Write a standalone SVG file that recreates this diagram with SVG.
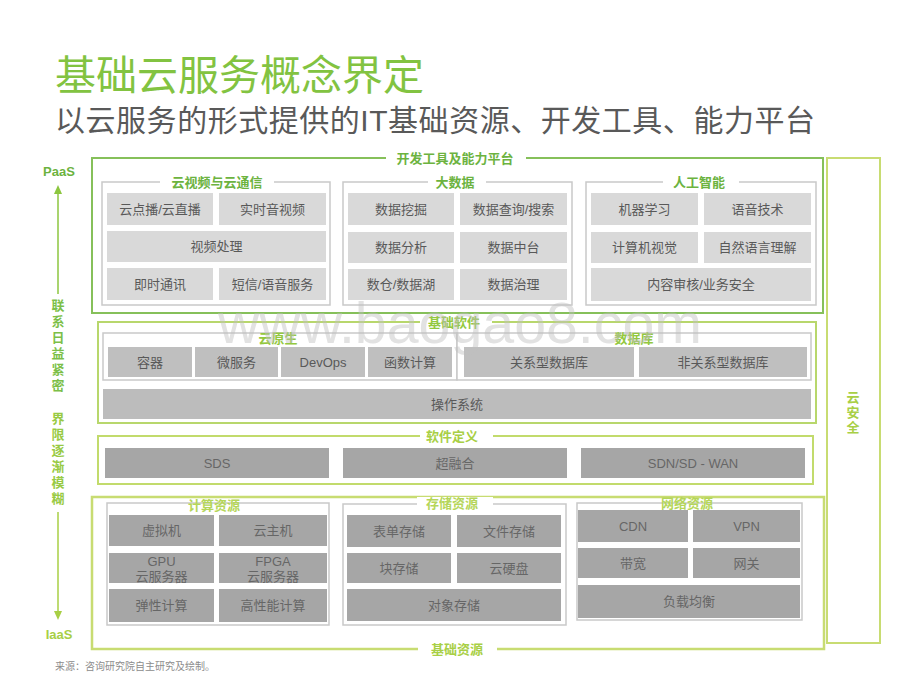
<svg xmlns="http://www.w3.org/2000/svg" width="920" height="690" viewBox="0 0 920 690">
<style>
text{font-family:"Liberation Sans","Noto Sans CJK SC",sans-serif;}
.c{font-size:13px;fill:#595959;text-anchor:middle;dominant-baseline:central;}
.cb{font-size:13px;fill:#666;text-anchor:middle;dominant-baseline:central;}
.cl{fill:#d9d9d9}
.cm{fill:#bfbfbf}
.cd{fill:#a6a6a6}
.pn{fill:#fff;stroke:#c9c9c9;stroke-width:1.5}
.lb{font-size:13px;font-weight:bold;text-anchor:middle;dominant-baseline:central}
.g1{fill:#6cb33f}
.g2{fill:#93c83e}
.g3{fill:#a8cf45}
.bg{fill:#fff}
.vt{font-size:13px;font-weight:bold;text-anchor:middle;dominant-baseline:central}
</style>

<!-- Title -->
<g id="title">
<text x="55" y="90" font-size="41" fill="#82c341" font-family="Noto Sans CJK SC,sans-serif">基础云服务概念界定</text>
<text x="55" y="131" font-size="30" fill="#595959" textLength="760" lengthAdjust="spacing">以云服务的形式提供的IT基础资源、开发工具、能力平台</text>
</g>

<!-- Left axis -->
<g id="axis">
<text x="59" y="171" class="vt" fill="#6cb33f" font-size="12">PaaS</text>
<text class="vt" fill="#7cbf48">
<tspan x="58" y="305">联</tspan><tspan x="58" y="321">系</tspan><tspan x="58" y="337">日</tspan><tspan x="58" y="353">益</tspan><tspan x="58" y="369">紧</tspan><tspan x="58" y="385">密</tspan>
</text>
<text class="vt" fill="#98ca43">
<tspan x="58" y="418">界</tspan><tspan x="58" y="434">限</tspan><tspan x="58" y="450">逐</tspan><tspan x="58" y="466">渐</tspan><tspan x="58" y="482">模</tspan><tspan x="58" y="498">糊</tspan>
</text>
<text x="59" y="634" class="vt" fill="#a8cf45" font-size="12">IaaS</text>
</g>

<g id="connectors">
<line x1="58" y1="192" x2="58" y2="294" stroke="#8cc63f" stroke-width="1.5"/>
<polygon points="58,185 54,194 62,194" fill="#8cc63f"/>
<line x1="58" y1="512" x2="58" y2="613" stroke="#a8cf45" stroke-width="1.5"/>
<polygon points="58,620 54,611 62,611" fill="#a8cf45"/>
</g>

<!-- Cloud security -->
<g id="cloud-security">
<rect x="827" y="158" width="53" height="485" fill="none" stroke="#c8dc72" stroke-width="2"/>
<text class="vt" fill="#a8cf45"><tspan x="853" y="397">云</tspan><tspan x="853" y="412">安</tspan><tspan x="853" y="427">全</tspan></text>
</g>

<!-- Dev tools & capability platform -->
<g id="platform">
<rect x="92" y="158" width="731" height="155" fill="none" stroke="#86c05a" stroke-width="2"/>
<rect x="386" y="150" width="140" height="16" class="bg"/>
<text x="455" y="158" class="lb g1">开发工具及能力平台</text>
</g>

<g id="video">
<rect x="102" y="182" width="228" height="123" class="pn"/>
<rect x="160" y="174" width="114" height="16" class="bg"/>
<text x="217" y="182" class="lb g1">云视频与云通信</text>
<rect x="107" y="193" width="106" height="32" class="cl"/><text x="160" y="209" class="c">云点播/云直播</text>
<rect x="219" y="193" width="107" height="32" class="cl"/><text x="272.5" y="209" class="c">实时音视频</text>
<rect x="107" y="231" width="219" height="31" class="cl"/><text x="216.5" y="246.5" class="c">视频处理</text>
<rect x="107" y="268" width="106" height="32" class="cl"/><text x="160" y="284" class="c">即时通讯</text>
<rect x="219" y="268" width="107" height="32" class="cl"/><text x="272.5" y="284" class="c">短信/语音服务</text>
</g>

<g id="bigdata">
<rect x="343" y="182" width="229" height="123" class="pn"/>
<rect x="428" y="174" width="58" height="16" class="bg"/>
<text x="455" y="182" class="lb g1">大数据</text>
<rect x="348" y="193" width="106" height="32" class="cl"/><text x="401" y="209" class="c">数据挖掘</text>
<rect x="460" y="193" width="107" height="32" class="cl"/><text x="513.5" y="209" class="c">数据查询/搜索</text>
<rect x="348" y="232" width="106" height="31" class="cl"/><text x="401" y="247.5" class="c">数据分析</text>
<rect x="460" y="232" width="107" height="31" class="cl"/><text x="513.5" y="247.5" class="c">数据中台</text>
<rect x="348" y="269" width="106" height="31" class="cl"/><text x="401" y="284.5" class="c">数仓/数据湖</text>
<rect x="460" y="269" width="107" height="31" class="cl"/><text x="513.5" y="284.5" class="c">数据治理</text>
</g>

<g id="ai">
<rect x="586" y="182" width="230" height="123" class="pn"/>
<rect x="663" y="174" width="76" height="16" class="bg"/>
<text x="699" y="182" class="lb g1">人工智能</text>
<rect x="591" y="193" width="107" height="32" class="cl"/><text x="644.5" y="209" class="c">机器学习</text>
<rect x="704" y="193" width="107" height="32" class="cl"/><text x="757.5" y="209" class="c">语音技术</text>
<rect x="591" y="232" width="107" height="31" class="cl"/><text x="644.5" y="247.5" class="c">计算机视觉</text>
<rect x="704" y="232" width="107" height="31" class="cl"/><text x="757.5" y="247.5" class="c">自然语言理解</text>
<rect x="591" y="268" width="220" height="33" class="cl"/><text x="701" y="284.5" class="c">内容审核/业务安全</text>
</g>

<!-- Basic software -->
<g id="basic-software">
<rect x="98" y="322" width="718" height="101" fill="none" stroke="#b8d76c" stroke-width="2"/>
<rect x="420" y="314" width="72" height="16" class="bg"/>
<text x="454" y="322" class="lb g2">基础软件</text>
</g>

<g id="cloud-native">
<rect x="103" y="333" width="354" height="47" class="pn"/>
<text x="278" y="338.5" class="lb g2" font-size="12.5">云原生</text>
<rect x="108" y="347" width="84" height="30" class="cm"/><text x="150" y="362" class="c">容器</text>
<rect x="195" y="347" width="83" height="30" class="cm"/><text x="236.5" y="362" class="c">微服务</text>
<rect x="281" y="347" width="84" height="30" class="cm"/><text x="323" y="362" class="c">DevOps</text>
<rect x="368" y="347" width="84" height="30" class="cm"/><text x="410" y="362" class="c">函数计算</text>
</g>

<g id="database">
<rect x="457" y="333" width="354" height="47" class="pn"/>
<text x="634" y="338.5" class="lb g2" font-size="12.5">数据库</text>
<rect x="464" y="347" width="170" height="30" class="cm"/><text x="549" y="362" class="c">关系型数据库</text>
<rect x="639" y="347" width="168" height="30" class="cm"/><text x="723" y="362" class="c">非关系型数据库</text>
</g>

<g id="os">
<rect x="103" y="389" width="708" height="30" fill="#bcbcbc"/>
<text x="457" y="404" class="c">操作系统</text>
</g>

<!-- Software defined -->
<g id="software-defined">
<rect x="98" y="436" width="715" height="48" fill="none" stroke="#c2db6c" stroke-width="2"/>
<rect x="420" y="428" width="73" height="16" class="bg"/>
<text x="452" y="436" class="lb g3">软件定义</text>
<rect x="105" y="448" width="224" height="30" class="cd"/><text x="217" y="463" class="cb">SDS</text>
<rect x="343" y="448" width="224" height="30" class="cd"/><text x="455" y="463" class="cb">超融合</text>
<rect x="581" y="448" width="224" height="30" class="cd"/><text x="693" y="463" class="cb">SDN/SD - WAN</text>
</g>

<!-- Basic resources -->
<g id="basic-resources">
<rect x="92" y="497" width="732" height="152" fill="none" stroke="#c8dc72" stroke-width="2.5"/>
<rect x="418" y="641" width="79" height="16" class="bg"/>
<text x="457" y="649" class="lb g3">基础资源</text>
</g>

<g id="compute">
<rect x="107" y="503" width="222" height="122" class="pn"/>
<rect x="109" y="515" width="105" height="31" class="cd"/><text x="161.5" y="530.5" class="cb">虚拟机</text>
<rect x="219" y="515" width="108" height="31" class="cd"/><text x="273" y="530.5" class="cb">云主机</text>
<rect x="109" y="553" width="105" height="30" class="cd"/><text x="161.5" y="561" class="cb">GPU</text><text x="161.5" y="576" class="cb">云服务器</text>
<rect x="219" y="553" width="108" height="30" class="cd"/><text x="273" y="561" class="cb">FPGA</text><text x="273" y="576" class="cb">云服务器</text>
<rect x="109" y="589" width="105" height="33" class="cd"/><text x="161.5" y="605.5" class="cb">弹性计算</text>
<rect x="219" y="589" width="108" height="33" class="cd"/><text x="273" y="605.5" class="cb">高性能计算</text>
<text x="214" y="505" class="lb" fill="#b5d65a">计算资源</text>
</g>

<g id="storage">
<rect x="343" y="504" width="223" height="121" class="pn"/>
<rect x="417" y="497" width="76" height="14" class="bg"/>
<text x="452" y="503" class="lb" fill="#b5d65a">存储资源</text>
<rect x="347" y="515" width="104" height="32" class="cd"/><text x="399" y="531" class="cb">表单存储</text>
<rect x="457" y="515" width="104" height="32" class="cd"/><text x="509" y="531" class="cb">文件存储</text>
<rect x="347" y="553" width="104" height="30" class="cd"/><text x="399" y="568" class="cb">块存储</text>
<rect x="457" y="553" width="104" height="30" class="cd"/><text x="509" y="568" class="cb">云硬盘</text>
<rect x="347" y="589" width="214" height="32" class="cd"/><text x="454" y="605" class="cb">对象存储</text>
</g>

<g id="network">
<rect x="577" y="503" width="225" height="117" class="pn"/>
<rect x="578" y="510" width="110" height="32" class="cd"/><text x="633" y="526" class="cb">CDN</text>
<rect x="693" y="510" width="107" height="32" class="cd"/><text x="746.5" y="526" class="cb">VPN</text>
<rect x="578" y="548" width="110" height="30" class="cd"/><text x="633" y="563" class="cb">带宽</text>
<rect x="693" y="548" width="107" height="30" class="cd"/><text x="746.5" y="563" class="cb">网关</text>
<rect x="578" y="585" width="222" height="33" class="cd"/><text x="689" y="601.5" class="cb">负载均衡</text>
<text x="687" y="503" class="lb" fill="#b5d65a">网络资源</text>
</g>

<g id="footer">
<text x="55" y="670" font-size="10" fill="#8c8c8c">来源：咨询研究院自主研究及绘制。</text>
</g>

<g id="watermark">
<text x="218" y="343" font-size="57" fill="#bfbfbf" opacity="0.45" textLength="484" lengthAdjust="spacingAndGlyphs">www.baogao8.com</text>
</g>
</svg>
